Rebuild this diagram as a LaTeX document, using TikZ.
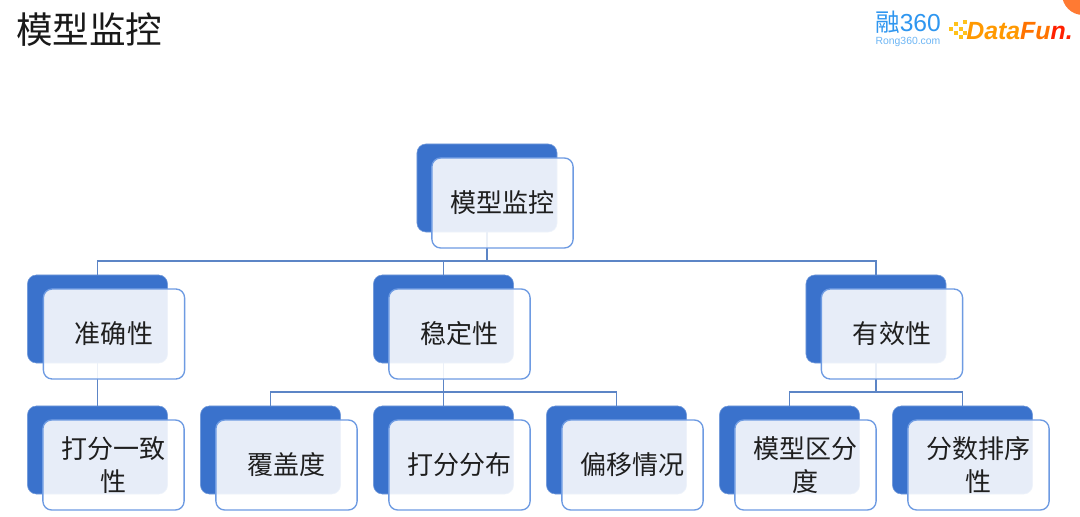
\documentclass[tikz,border=0pt]{standalone}
\usepackage{fontspec}
\setmainfont{Noto Sans CJK SC}
\newfontfamily\logofont{Liberation Sans}
\usepackage{xcolor}
\usepackage{tikz}
\definecolor{backblue}{HTML}{3A72CC}
\definecolor{edgeblue}{HTML}{6E9BE2}
\definecolor{linkblue}{HTML}{5C85C6}
\definecolor{rongblue}{HTML}{2E96F0}
\definecolor{dotorange}{HTML}{FFC21A}
\definecolor{cornerorange}{HTML}{FF7A33}
\tikzset{>=latex}
\tikzstyle{backbox} = [rectangle, rounded corners=0.22cm, fill=backblue, draw=backblue!70, line width=0.4pt, minimum width=3.5cm, minimum height=2.2cm, inner sep=0pt]
\tikzstyle{frontbox} = [rectangle, rounded corners=0.22cm, fill=white, fill opacity=0.88, text opacity=1, draw=edgeblue, line width=0.95pt, minimum width=3.53cm, minimum height=2.25cm, inner sep=0pt, align=center, font=\fontsize{18.5}{23}\selectfont, text=black!88]
\tikzstyle{link} = [draw=linkblue, line width=0.75pt]
\begin{document}
\begin{tikzpicture}[x=0.025cm, y=-0.025cm]
\useasboundingbox (0, 0) rectangle (1080, 517);
\fill [white] (0, 0) rectangle (1080, 517);
% title and logos
\node [anchor=west, inner sep=0pt, font=\fontsize{26}{30}\selectfont, text=black!90] (title) at (16, 30) {模型监控};
\node [inner sep=0pt, font=\logofont\fontsize{17.5}{18}\selectfont, text=rongblue] (rong) at (908, 22) {\fontspec{Noto Sans CJK SC}融\logofont 360};
\node [inner sep=0pt, font=\logofont\fontsize{7.4}{8}\selectfont, text=rongblue!70] (rongurl) at (908, 42) {Rong360.com};
\node [anchor=west, inner sep=0pt, font=\logofont\bfseries\itshape\fontsize{17.7}{18}\selectfont] (datafun) at (966, 31) {\textcolor{orange!80!yellow}{Data}\textcolor{orange!90!red}{Fu}\textcolor{red!75!orange}{n.}};
\fill [dotorange] (949, 27) rectangle +(4, 4);
\fill [dotorange] (954, 22) rectangle +(4, 4);
\fill [dotorange] (954, 31) rectangle +(4, 4);
\fill [dotorange] (959, 27) rectangle +(4, 4);
\fill [dotorange] (959, 35) rectangle +(4, 4);
\fill [dotorange] (963, 20) rectangle +(4, 4);
\fill [dotorange] (963, 31) rectangle +(4, 4);
\begin{scope}
\clip (0, 0) rectangle (1080, 517);
\fill [cornerorange] (1083, -6) circle (21);
\end{scope}
% back boxes
\node [backbox] (modelB) at (487, 188) {};
\node [backbox] (accB) at (97.5, 319) {};
\node [backbox] (stabB) at (443.5, 319) {};
\node [backbox] (validB) at (876, 319) {};
\node [backbox] (scoreB) at (97.5, 450) {};
\node [backbox] (coverB) at (270.5, 450) {};
\node [backbox] (distB) at (443.5, 450) {};
\node [backbox] (shiftB) at (616.5, 450) {};
\node [backbox] (discB) at (789.5, 450) {};
\node [backbox] (rankB) at (962.5, 450) {};
% connectors
\draw [link] (modelB.south) -- (487, 261) -| (accB.north);
\draw [link] (modelB.south) -- (487, 261) -| (stabB.north);
\draw [link] (modelB.south) -- (487, 261) -| (validB.north);
\draw [link] (accB.south) -- (scoreB.north);
\draw [link] (stabB.south) -- (443.5, 392) -| (coverB.north);
\draw [link] (stabB.south) -- (distB.north);
\draw [link] (stabB.south) -- (443.5, 392) -| (shiftB.north);
\draw [link] (validB.south) -- (876, 392) -| (discB.north);
\draw [link] (validB.south) -- (876, 392) -| (rankB.north);
% front boxes
\node [frontbox] (model) at (502.5, 203) {模型监控};
\node [frontbox] (acc) at (114, 334) {准确性};
\node [frontbox] (stab) at (459.5, 334) {稳定性};
\node [frontbox] (valid) at (892, 334) {有效性};
\node [frontbox] (score) at (113.5, 465) {打分一致\\性};
\node [frontbox] (cover) at (286.5, 465) {覆盖度};
\node [frontbox] (dist) at (459.5, 465) {打分分布};
\node [frontbox] (shift) at (632.5, 465) {偏移情况};
\node [frontbox] (disc) at (805.5, 465) {模型区分\\度};
\node [frontbox] (rank) at (978.5, 465) {分数排序\\性};
\end{tikzpicture}
\end{document}
